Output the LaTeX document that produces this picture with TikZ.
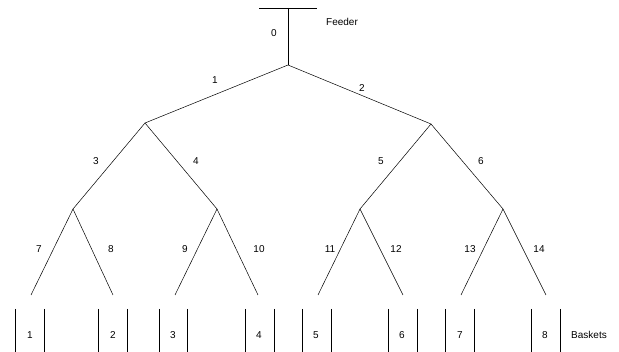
\documentclass[tikz,border=0pt]{standalone}
\usepackage{fontspec}
\setmainfont{Liberation Sans}
\begin{document}
\begin{tikzpicture}[x=1pt,y=-1pt,font=\fontsize{10}{11}\selectfont,line width=0.5pt]
            \tikzstyle{every node}+=[inner sep=0pt]
                \useasboundingbox (0,0) rectangle (619,352);
                % feeder
                \coordinate (fa) at (259,8);
                \coordinate (fb) at (317,8);
                \coordinate (f) at (288,8);
                \coordinate (r) at (288,65);
                \draw (fa) -- (fb);
                \draw (f) -- (r);
                \node (l0) at (274,33) {0};
                \node (feeder) at (342,22) {Feeder};
                % tree joints
                \coordinate (a) at (145,123);
                \coordinate (b) at (431,124);
                \coordinate (aa) at (73,209);
                \coordinate (ab) at (217,209);
                \coordinate (ba) at (360,209);
                \coordinate (bb) at (503,209);
                \coordinate (e1) at (31,295);
                \coordinate (e2) at (113,295);
                \coordinate (e3) at (175,295);
                \coordinate (e4) at (258,295);
                \coordinate (e5) at (318,295);
                \coordinate (e6) at (403,295);
                \coordinate (e7) at (461,295);
                \coordinate (e8) at (546,295);
                \draw (r) -- (a);
                \draw (r) -- (b);
                \draw (a) -- (aa);
                \draw (a) -- (ab);
                \draw (b) -- (ba);
                \draw (b) -- (bb);
                \draw (aa) -- (e1);
                \draw (aa) -- (e2);
                \draw (ab) -- (e3);
                \draw (ab) -- (e4);
                \draw (ba) -- (e5);
                \draw (ba) -- (e6);
                \draw (bb) -- (e7);
                \draw (bb) -- (e8);
                \node (l1) at (215,80) {1};
                \node (l2) at (362,88) {2};
                \node (l3) at (96,161) {3};
                \node (l4) at (196,161) {4};
                \node (l5) at (381,161) {5};
                \node (l6) at (481,161) {6};
                \node (l7) at (39,249) {7};
                \node (l8) at (111,249) {8};
                \node (l9) at (185,249) {9};
                \node (l10) at (259,249) {10};
                \node (l11) at (330,249) {11};
                \node (l12) at (396,249) {12};
                \node (l13) at (470,249) {13};
                \node (l14) at (539,249) {14};
                % baskets
                \draw (15,309) -- (15,352);
                \draw (44,309) -- (44,352);
                \draw (98.5,309) -- (98.5,352);
                \draw (127,309) -- (127,352);
                \draw (159,309) -- (159,352);
                \draw (187,309) -- (187,352);
                \draw (245.5,309) -- (245.5,352);
                \draw (274,309) -- (274,352);
                \draw (302.5,309) -- (302.5,352);
                \draw (331,309) -- (331,352);
                \draw (388,309) -- (388,352);
                \draw (417,309) -- (417,352);
                \draw (445,309) -- (445,352);
                \draw (474,309) -- (474,352);
                \draw (531,309) -- (531,352);
                \draw (560,309) -- (560,352);
                \node (k1) at (30,335) {1};
                \node (k2) at (113,335) {2};
                \node (k3) at (173,335) {3};
                \node (k4) at (259,335) {4};
                \node (k5) at (316,335) {5};
                \node (k6) at (402,335) {6};
                \node (k7) at (460,335) {7};
                \node (k8) at (545,335) {8};
                \node (baskets) at (589,335) {Baskets};
            \end{tikzpicture}
\end{document}
